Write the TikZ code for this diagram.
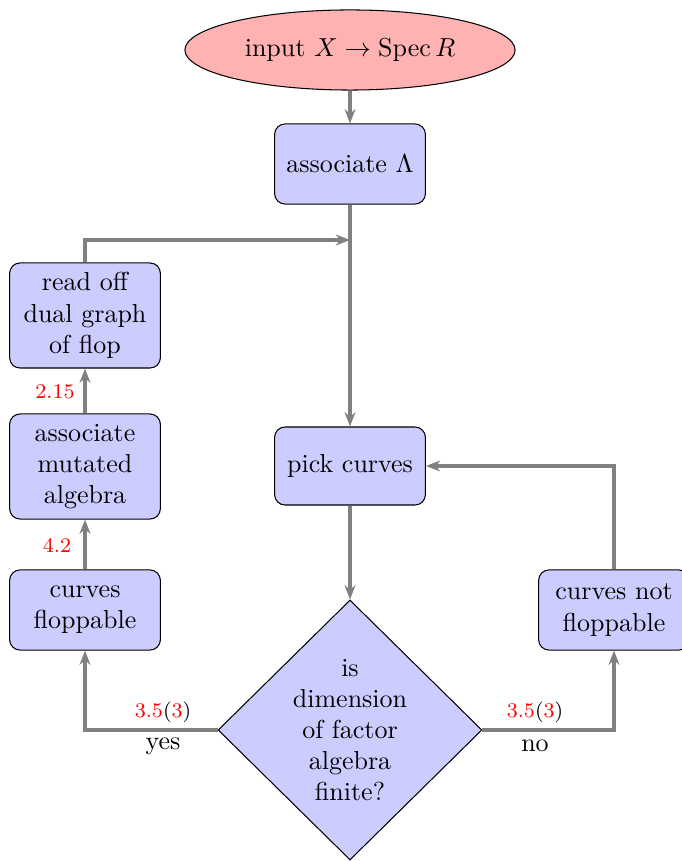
\documentclass[tikz,border=0pt]{standalone}
\usetikzlibrary{shapes.geometric,arrows.meta}
\begin{document}
\begin{tikzpicture}[x=0.384615pt,y=-0.384615pt,
  box/.style={draw=black,fill=blue!20,rounded corners=4pt,align=center,inner sep=2pt,minimum width=58pt},
  arr/.style={draw=gray,line width=1.3pt,-{Stealth[length=5.5pt,width=4.2pt,inset=1.8pt]}},
  lab/.style={font=\footnotesize,text=red},
  every node/.style={font=\normalsize}]
\useasboundingbox (0,0) rectangle (681,861);
\node[ellipse,draw=black,fill=red!30,minimum width=127pt,minimum height=30.8pt,inner sep=0pt] (input) at (350,50) {input $X\to\mathrm{Spec}\,R$};
\node[box,minimum height=30.8pt] (assoc) at (350,164) {associate $\Lambda$};
\node[box,minimum height=30pt] (pick) at (350,466) {pick curves};
\node[diamond,draw=black,fill=blue!20,minimum width=101.5pt,minimum height=100pt,inner sep=0pt] (dec) at (350,730) {};
\node[align=center] (dectext) at (dec.center) {is\\dimension\\of factor\\algebra\\finite?};
\node[box,minimum height=40.4pt] (readoff) at (85,315.5) {read off\\dual graph\\of flop};
\node[box,minimum height=40.4pt] (mutated) at (85,466.5) {associate\\mutated\\algebra};
\node[box,minimum height=30.8pt] (flop) at (85,610) {curves\\floppable};
\node[box,minimum height=30.8pt] (notflop) at (614,610) {curves not\\floppable};
\coordinate (join) at (350,240);
\draw[arr] (input.south) -- (assoc.north);
\draw[arr] (assoc.south) -- (pick.north);
\draw[arr] (readoff.north) |- (join);
\draw[arr] (pick.south) -- (dec.north);
\draw[arr] (dec.west) -| (flop.south);
\draw[arr] (dec.east) -| (notflop.south);
\draw[arr] (notflop.north) |- (pick.east);
\draw[arr] (flop.north) -- (mutated.south);
\draw[arr] (mutated.north) -- (readoff.south);
\node[lab] (l42) at (57,545) {4.2};
\node[lab] (l215) at (55,392) {2.15};
\node[lab] (lyes) at (163,712) {3.5\textcolor{black}{(}3\textcolor{black}{)}};
\node[lab] (lno) at (535,712) {3.5\textcolor{black}{(}3\textcolor{black}{)}};
\node (yes) at (163,746) {yes};
\node (no) at (535,746) {no};
\end{tikzpicture}
\end{document}
